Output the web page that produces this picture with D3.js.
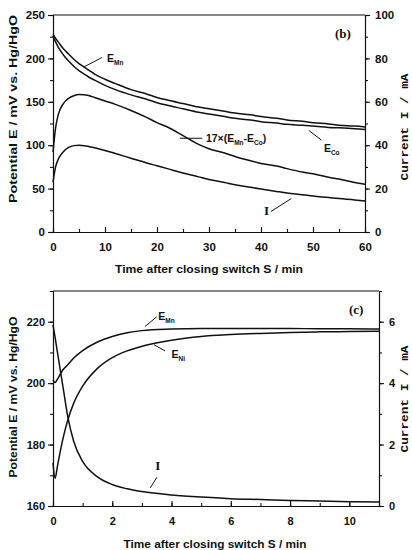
<!DOCTYPE html>
<html>
<head>
<meta charset="utf-8">
<script src="https://cdn.jsdelivr.net/npm/d3@7"></script>
<style>
body { margin: 0; background: #fff; }
svg text { font-family: "Liberation Sans", Arial, sans-serif; font-weight: bold; fill: #111; }
.domain, .tick line { stroke: #111; stroke-width: 1.1; }
.curve { fill: none; stroke: #111; stroke-width: 1.5; }
.leader { stroke: #111; stroke-width: 1; }
</style>
</head>
<body>
<svg id="chart" width="412" height="550"></svg>
<script>
// panel (b), time in min
var timeB = [0, 0.5, 1, 2, 3, 4, 5, 6, 7, 8, 10, 12, 15, 18, 20, 22, 25, 28, 30, 33, 35, 38, 40, 43, 45, 48, 50, 53, 55, 58, 60];
var eMnB  = [228, 223, 219, 211, 205, 199, 194, 190, 186, 182, 176, 171, 164, 159, 155, 152, 148, 144, 142, 139, 137, 135, 133, 131, 129, 127.5, 126, 124.5, 123, 122, 121];
var eCoB  = [226, 219, 213, 204, 197, 191, 186, 182, 178, 175, 169, 164, 158, 153, 149, 146, 142, 138, 136, 133, 131, 129, 127, 125.5, 124, 123, 122, 120.5, 120, 119, 118];
var diffB = [92, 120, 135, 148, 154, 157, 158.5, 158, 157, 155, 151, 147, 140, 132, 126, 121, 111, 101, 96, 91, 87, 82, 79, 76, 73, 69, 67, 63, 61, 57, 55];
var curB  = [23, 30, 33.5, 37, 39, 39.8, 40, 39.8, 39.3, 38.8, 37.6, 36.2, 34, 31.8, 30.5, 29.2, 27.2, 25.4, 24.2, 22.8, 21.8, 20.6, 19.8, 18.7, 18, 17.2, 16.6, 15.9, 15.4, 14.8, 14.3];

// panel (c), time in min
var timeC = [0, 0.07, 0.15, 0.25, 0.35, 0.5, 0.7, 1, 1.5, 2, 2.5, 3, 4, 5, 6, 7, 8, 9, 10, 11];
var eMnC  = [201, 200.2, 201.3, 203, 204.5, 206, 208.2, 210.6, 213.4, 215.2, 216.4, 217.1, 217.6, 217.8, 217.8, 217.8, 217.8, 217.7, 217.7, 217.6];
var eNiC  = [174, 169, 173, 178, 182.5, 188, 193.5, 199, 204.8, 208.3, 210.5, 212, 214, 215.2, 215.8, 216.2, 216.5, 216.7, 216.8, 216.9];
var curC  = [5.9, 5.5, 5.0, 4.4, 3.8, 2.9, 2.1, 1.45, 0.95, 0.7, 0.56, 0.47, 0.36, 0.29, 0.24, 0.21, 0.18, 0.16, 0.14, 0.13];

var xTicksB = [0, 10, 20, 30, 40, 50, 60];
var yLTicksB = [0, 50, 100, 150, 200, 250];
var yRTicksB = [0, 20, 40, 60, 80, 100];
var xTicksC = [0, 2, 4, 6, 8, 10];
var yLTicksC = [160, 180, 200, 220];
var yRTicksC = [0, 2, 4, 6];

var svg = d3.select('#chart');
var fmt = d3.format('d');

function zip(xs, ys) {
    return xs.map(function (t, i) { return [t, ys[i]]; });
}

function range(a, b, step) {
    return d3.range(a, b + step / 2, step);
}

function subLabel(g, x, y, main, sub, size) {
    var t = g.append('text').attr('x', x).attr('y', y).attr('font-size', size);
    t.append('tspan').text(main);
    t.append('tspan').attr('dy', 3).attr('font-size', size * 0.62).text(sub);
    return t;
}

function drawPanel(p) {
    var g = svg.append('g');
    var x = d3.scaleLinear().domain(p.xDomain).range([p.left, p.right]);
    var yL = d3.scaleLinear().domain(p.yLDomain).range([p.bottom, p.top]);
    var yR = d3.scaleLinear().domain(p.yRDomain).range([p.bottom, p.top]);

    // minor ticks
    g.append('g').attr('transform', 'translate(' + p.left + ',0)')
        .call(d3.axisLeft(yL).tickValues(p.yLMinor).tickSize(3).tickFormat(''));
    g.append('g').attr('transform', 'translate(' + p.right + ',0)')
        .call(d3.axisRight(yR).tickValues(p.yRMinor).tickSize(3).tickFormat(''));
    g.append('g').attr('transform', 'translate(0,' + p.bottom + ')')
        .call(d3.axisBottom(x).tickValues(p.xMinor).tickSizeInner(-3).tickSizeOuter(0).tickFormat(''));

    var left = g.append('g').attr('transform', 'translate(' + p.left + ',0)')
        .call(d3.axisLeft(yL).tickValues(p.yLTicks).tickFormat(fmt).tickSizeInner(5).tickSizeOuter(0).tickPadding(3));
    var right = g.append('g').attr('transform', 'translate(' + p.right + ',0)')
        .call(d3.axisRight(yR).tickValues(p.yRTicks).tickFormat(fmt).tickSizeInner(5).tickSizeOuter(0).tickPadding(5));
    var bottom = g.append('g').attr('transform', 'translate(0,' + p.bottom + ')')
        .call(d3.axisBottom(x).tickValues(p.xTicks).tickFormat(fmt).tickSizeInner(-5).tickSizeOuter(0).tickPadding(11));

    [left, right, bottom].forEach(function (a) {
        a.selectAll('text').attr('font-size', p.tickSize);
    });

    // top frame line
    g.append('line')
        .attr('x1', p.left).attr('x2', p.right)
        .attr('y1', p.top).attr('y2', p.top)
        .attr('stroke', '#111').attr('stroke-width', 1.1);

    p.series.forEach(function (s) {
        var ys = s.axis === 'right' ? yR : yL;
        g.append('path')
            .datum(zip(s.t, s.v))
            .attr('class', 'curve')
            .attr('d', d3.line()
                .x(function (d) { return x(d[0]); })
                .y(function (d) { return ys(d[1]); })
                .curve(d3.curveMonotoneX));
    });

    p.notes.forEach(function (n) {
        var ys = n.axis === 'right' ? yR : yL;
        g.append('line').attr('class', 'leader')
            .attr('x1', x(n.from[0])).attr('y1', ys(n.from[1]))
            .attr('x2', x(n.to[0])).attr('y2', ys(n.to[1]));
        if (n.serif) {
            g.append('text').attr('x', x(n.at[0])).attr('y', ys(n.at[1]))
                .attr('font-size', 13)
                .style('font-family', '"Liberation Serif", serif')
                .text(n.text);
        } else if (n.sub) {
            subLabel(g, x(n.at[0]), ys(n.at[1]), n.text, n.sub, 10.5);
        } else {
            var t = g.append('text').attr('x', x(n.at[0])).attr('y', ys(n.at[1])).attr('font-size', 10.5);
            n.parts.forEach(function (part) {
                var ts = t.append('tspan').text(part[0]);
                if (part[1] === 'sub') ts.attr('font-size', 6.5).attr('dy', 3);
                if (part[1] === 'up') ts.attr('dy', -3);
            });
        }
    });

    g.append('text')
        .attr('x', p.tag[0]).attr('y', p.tag[1])
        .attr('font-size', 13)
        .style('font-family', '"Liberation Serif", serif')
        .text(p.tagText);

    g.append('text')
        .attr('text-anchor', 'middle')
        .attr('x', p.xTitle[0]).attr('y', p.xTitle[1])
        .attr('font-size', 11.5)
        .attr('textLength', p.xTitle[2]).attr('lengthAdjust', 'spacingAndGlyphs')
        .text('Time after closing switch S / min');

    g.append('text')
        .attr('text-anchor', 'middle')
        .attr('transform', 'translate(' + p.yLTitle[0] + ',' + p.yLTitle[1] + ') rotate(-90)')
        .attr('font-size', 11.5)
        .attr('textLength', p.yLTitle[2]).attr('lengthAdjust', 'spacingAndGlyphs')
        .text('Potential E / mV vs. Hg/HgO');

    g.append('text')
        .attr('text-anchor', 'middle')
        .attr('transform', 'translate(' + p.yRTitle[0] + ',' + p.yRTitle[1] + ') rotate(-90)')
        .attr('font-size', 11)
        .style('font-family', '"Liberation Mono", monospace')
        .attr('textLength', 107).attr('lengthAdjust', 'spacingAndGlyphs')
        .text('Current I / mA');
}

drawPanel({
    left: 53, right: 365, top: 15, bottom: 232,
    xDomain: [0, 60], yLDomain: [0, 250], yRDomain: [0, 100],
    xTicks: xTicksB, yLTicks: yLTicksB, yRTicks: yRTicksB,
    xMinor: range(0, 60, 5), yLMinor: range(0, 250, 25), yRMinor: range(0, 100, 10),
    tickSize: 11.5,
    series: [
        { t: timeB, v: eMnB },
        { t: timeB, v: eCoB },
        { t: timeB, v: diffB },
        { t: timeB, v: curB, axis: 'right' }
    ],
    notes: [
        { from: [5.9, 190], to: [9.4, 201], at: [10.4, 196], text: 'E', sub: 'Mn' },
        { from: [49.2, 117], to: [51.6, 106], at: [52.1, 92], text: 'E', sub: 'Co' },
        { from: [24.4, 108], to: [28.7, 108], at: [29.4, 104],
          parts: [['17\u00d7(E'], ['Mn', 'sub'], ['-E', 'up'], ['Co', 'sub'], [')', 'up']] },
        { axis: 'right', from: [41.9, 9.4], to: [45.8, 15.4], at: [40.6, 7.8], text: 'I', serif: true }
    ],
    tag: [335, 38], tagText: '(b)',
    xTitle: [209, 273, 188],
    yLTitle: [17, 109, 188],
    yRTitle: [408, 127]
});

drawPanel({
    left: 53, right: 379, top: 291, bottom: 506,
    xDomain: [0, 11], yLDomain: [160, 230], yRDomain: [0, 7],
    xTicks: xTicksC, yLTicks: yLTicksC, yRTicks: yRTicksC,
    xMinor: range(0, 11, 1), yLMinor: range(160, 230, 10), yRMinor: range(0, 7, 1),
    tickSize: 11,
    series: [
        { t: timeC, v: eMnC },
        { t: timeC, v: eNiC },
        { t: timeC, v: curC, axis: 'right' }
    ],
    notes: [
        { from: [3.1, 218.4], to: [3.5, 221.6], at: [3.55, 220.6], text: 'E', sub: 'Mn' },
        { from: [3.41, 212.5], to: [3.78, 210.5], at: [4.0, 208.2], text: 'E', sub: 'Ni' },
        { axis: 'right', from: [3.28, 0.59], to: [3.51, 0.94], at: [3.45, 1.17], text: 'I', serif: true }
    ],
    tag: [349, 314], tagText: '(c)',
    xTitle: [215, 548, 183],
    yLTitle: [17, 397, 161],
    yRTitle: [408, 399]
});
</script>
</body>
</html>
